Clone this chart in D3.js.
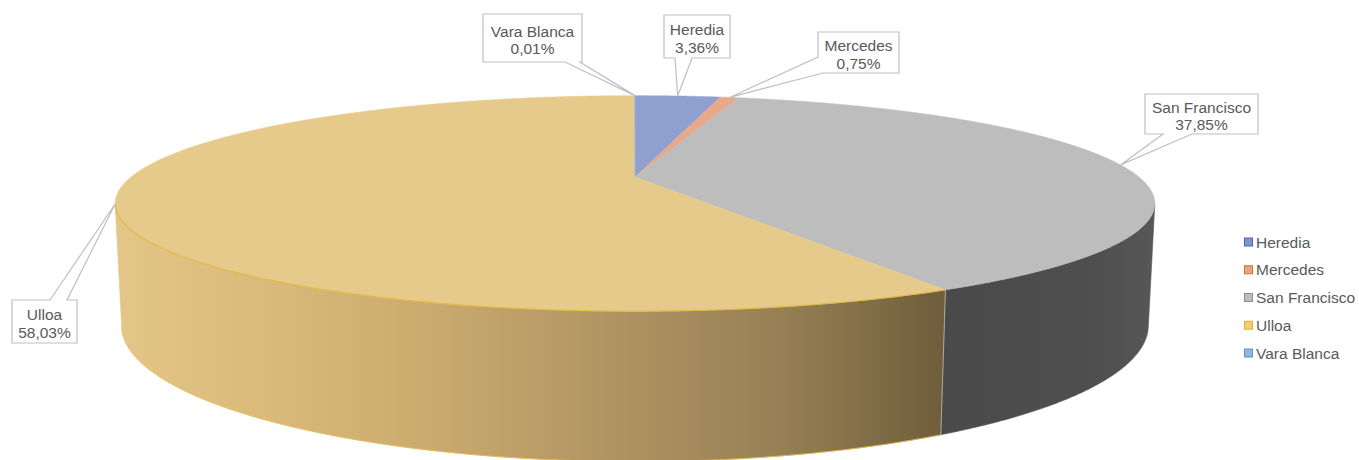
<!DOCTYPE html>
<html>
<head>
<meta charset="utf-8">
<script src="https://cdn.jsdelivr.net/npm/d3@7"></script>
<style>
  html, body { margin: 0; padding: 0; background: #ffffff; }
  svg { display: block; }
  text { font-family: "Liberation Sans", Arial, sans-serif; fill: #595959; }
</style>
</head>
<body>
<script>
// Share of total by district (percent)
const categories = ["Heredia", "Mercedes", "San Francisco", "Ulloa", "Vara Blanca"];
const shares = [3.36, 0.75, 37.85, 58.03, 0.01];

// Palette: top face, swatch fill, swatch border
const topColors = {
  "Heredia": "#8E9FD0", "Mercedes": "#E7A98A", "San Francisco": "#BDBDBD",
  "Ulloa": "#E6CA8B", "Vara Blanca": "#93B3DC"
};
const swatchFill = {
  "Heredia": "#7E95CF", "Mercedes": "#EAA37F", "San Francisco": "#BDBDBD",
  "Ulloa": "#F4CE72", "Vara Blanca": "#92B6DE"
};
const swatchStroke = {
  "Heredia": "#4A67AE", "Mercedes": "#D1723C", "San Francisco": "#8E8E8E",
  "Ulloa": "#E1B232", "Vara Blanca": "#5B90C9"
};

const W = 1359, H = 460;
const svg = d3.select("body").append("svg").attr("width", W).attr("height", H);

const pct = d3.formatLocale({ decimal: ",", thousands: ".", grouping: [3], currency: ["", ""] }).format(".2%");

// ---- 3D perspective camera ----
const sinT = 0.201, cosT = Math.sqrt(1 - sinT * sinT);   // elevation of the view
const radius = 0.25;        // disc radius relative to camera distance
const thick = 0.0592;       // disc thickness relative to camera distance
const focal = 2016;
const cx = 635, cy = 177;
const sx = d3.scaleLinear().domain([-1, 1]).range([cx - focal, cx + focal]);
const sy = d3.scaleLinear().domain([-1, 1]).range([cy + focal, cy - focal]);

function project(a, r, level) {
  const X = radius * r * Math.sin(a);
  const Wd = radius * r * Math.cos(a);
  const Y = -thick * level;
  const up = Y * cosT + Wd * sinT;
  const depth = 1 + Wd * cosT - Y * sinT;
  return [sx(X / depth), sy(up / depth)];
}

function arcPts(a0, a1, level) {
  const n = Math.max(2, Math.ceil(Math.abs(a1 - a0) / 0.004));
  return d3.range(n + 1).map(i => project(a0 + (a1 - a0) * i / n, 1, level));
}

const data = categories.map((name, i) => ({ name, value: shares[i] }));
const arcs = d3.pie().sort(null).value(d => d.value).startAngle(0).endAngle(2 * Math.PI)(data);

const line = d3.line();
const closed = d3.line().curve(d3.curveLinearClosed);

// ---- gradients for the side walls ----
const defs = svg.append("defs");
const gU = defs.append("linearGradient").attr("id", "wall-ulloa")
  .attr("gradientUnits", "userSpaceOnUse").attr("x1", 113).attr("x2", 945).attr("y1", 0).attr("y2", 0);
[[0, "#E4C688"], [0.2, "#D9B97A"], [0.4, "#C8A86C"], [0.6, "#B09462"], [0.8, "#978055"], [1, "#6F5D3B"]]
  .forEach(([o, col]) => gU.append("stop").attr("offset", o).attr("stop-color", col));
const gS = defs.append("linearGradient").attr("id", "wall-sf")
  .attr("gradientUnits", "userSpaceOnUse").attr("x1", 940).attr("x2", 1155).attr("y1", 0).attr("y2", 0);
[[0, "#4A4A4A"], [0.7, "#4E4E4E"], [1, "#575757"]]
  .forEach(([o, col]) => gS.append("stop").attr("offset", o).attr("stop-color", col));
const wallFill = { "Ulloa": "url(#wall-ulloa)", "San Francisco": "url(#wall-sf)" };

// ---- side walls: the rim is visible between the two silhouette generators ----
const visLo = Math.acos(-radius / cosT), visHi = 2 * Math.PI - visLo;
const walls = svg.append("g");
arcs.forEach(d => {
  const a0 = Math.max(d.startAngle, visLo), a1 = Math.min(d.endAngle, visHi);
  if (a1 <= a0) return;
  const pts = arcPts(a0, a1, 0).concat(arcPts(a1, a0, 1));
  walls.append("path").attr("d", closed(pts))
    .attr("fill", wallFill[d.data.name] || topColors[d.data.name])
    .attr("stroke", wallFill[d.data.name] || topColors[d.data.name]).attr("stroke-width", 0.6);
});
// edge between the Ulloa and San Francisco walls
const seam = arcs.find(d => d.data.name === "San Francisco").endAngle;
walls.append("path").attr("d", line([project(seam, 1, 0), project(seam, 1, 1)]))
  .attr("stroke", "#A8A8A8").attr("stroke-width", 1).attr("fill", "none");
// golden rim along the Ulloa wall bottom
const ul = arcs.find(d => d.data.name === "Ulloa");
walls.append("path").attr("d", line(arcPts(ul.startAngle, visHi, 1)))
  .attr("stroke", "#E8BE4A").attr("stroke-width", 1).attr("fill", "none").attr("opacity", 0.8);

// ---- top faces ----
const tops = svg.append("g");
arcs.forEach(d => {
  const pts = [project(0, 0, 0)].concat(arcPts(d.startAngle, d.endAngle, 0));
  tops.append("path").attr("d", closed(pts)).attr("fill", topColors[d.data.name])
    .attr("stroke", topColors[d.data.name]).attr("stroke-width", 0.5);
});
// golden edge where the Ulloa top meets its wall
tops.append("path").attr("d", line(arcPts(ul.startAngle, visHi, 0)))
  .attr("stroke", "#E3B948").attr("stroke-width", 1.2).attr("fill", "none");

// ---- data callouts ----
// box: [x, y, w, h]; wedge: perimeter offsets (clockwise from top-left corner)
const callouts = {
  "Heredia":       { box: [664, 15, 66, 43],  wedge: [147, 164] },
  "Mercedes":      { box: [818, 32, 81, 41],  wedge: [198, 219] },
  "San Francisco": { box: [1145, 94, 113, 40], wedge: [219, 248] },
  "Ulloa":         { box: [12, 300, 65, 43],  wedge: [38, 55] },
  "Vara Blanca":   { box: [483, 14, 99, 48],  wedge: [149, 164] }
};

function perimPoint(x, y, w, h, p) {
  if (p <= w) return [x + p, y];
  if (p <= w + h) return [x + w, y + (p - w)];
  if (p <= 2 * w + h) return [x + w - (p - w - h), y + h];
  return [x, y + h - (p - 2 * w - h)];
}

const labels = svg.append("g");
arcs.forEach(d => {
  const spec = callouts[d.data.name];
  const [x, y, w, h] = spec.box;
  const [p1, p2] = spec.wedge;
  const anchor = project((d.startAngle + d.endAngle) / 2, 1, 0);
  const corners = [[0, [x, y]], [w, [x + w, y]], [w + h, [x + w, y + h]], [2 * w + h, [x, y + h]]];
  const pts = [];
  corners.filter(([p]) => p < p1).forEach(([, q]) => pts.push(q));
  pts.push(perimPoint(x, y, w, h, p1), anchor, perimPoint(x, y, w, h, p2));
  corners.filter(([p]) => p > p2).forEach(([, q]) => pts.push(q));
  labels.append("path").attr("d", closed(pts))
    .attr("fill", "#ffffff").attr("stroke", "#BFBFBF").attr("stroke-width", 1.2);
  const t = labels.append("text").attr("text-anchor", "middle").style("font-size", "15.5px");
  t.append("tspan").attr("x", x + w / 2).attr("y", y + h / 2 - 1.5).text(d.data.name);
  t.append("tspan").attr("x", x + w / 2).attr("y", y + h / 2 + 16).text(pct(d.data.value / 100));
});

// ---- legend ----
const legendY = d3.scalePoint().domain(categories).range([242, 353]);
const legend = svg.append("g");
categories.forEach(name => {
  const yy = legendY(name);
  legend.append("rect").attr("x", 1244.5).attr("y", yy - 4).attr("width", 8).attr("height", 8)
    .attr("fill", swatchFill[name]).attr("stroke", swatchStroke[name]).attr("stroke-width", 1);
  legend.append("text").attr("x", 1256).attr("y", yy + 5.5).style("font-size", "15.5px").text(name);
});
</script>
</body>
</html>
